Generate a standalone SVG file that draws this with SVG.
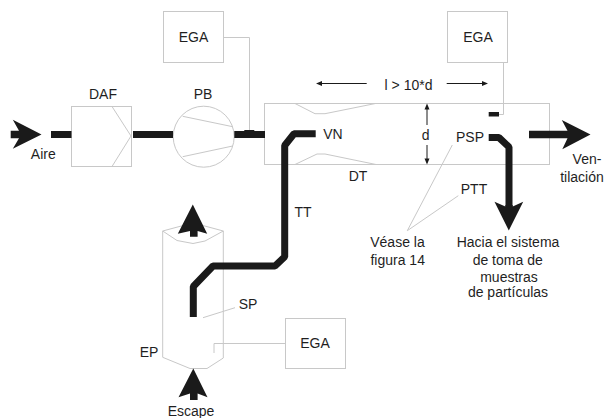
<svg xmlns="http://www.w3.org/2000/svg" width="605" height="418" viewBox="0 0 605 418">
<style>
.t{font-family:"Liberation Sans",Arial,sans-serif;font-size:14px;fill:#1f1f1f;text-anchor:middle}
.s{fill:none;stroke:#c8c8c8;stroke-width:1}
.b{fill:#fff;stroke:#c8c8c8;stroke-width:1}
.p{fill:none;stroke:#1a1a1a;stroke-width:7;stroke-linejoin:bevel}
.f{fill:#1a1a1a;stroke:none}
.a{fill:none;stroke:#1a1a1a;stroke-width:1}
</style>
<rect width="605" height="418" fill="#fff"/>
<g id="tunnel"><rect class="b" x="264.500" y="103.500" width="285" height="61"/>
<path class="s" d="M295 103.500L315 113.700H325L375.500 103.500M295 164.500L317 154H325L376 164.500"/>
<text class="t" x="358" y="181">DT</text></g>
<g id="daf"><rect class="b" x="71.500" y="106.500" width="60" height="60"/><path class="s" d="M112 106.500L131 136L112 166.500"/><text class="t" x="103" y="99">DAF</text></g>
<g id="pb"><circle class="b" cx="203.700" cy="136.700" r="30.500"/><path class="s" d="M182.700 116.300L232.700 126.700M182.700 156.700L232.700 146"/><text class="t" x="203" y="99">PB</text></g>
<g id="ega1"><rect class="b" x="163.500" y="11.500" width="60" height="51"/><text class="t" x="193.500" y="42">EGA</text><path class="s" d="M223.500 37.500H249.500V130"/></g>
<g id="ega2"><rect class="b" x="447.500" y="11.500" width="60" height="51"/><text class="t" x="478" y="42">EGA</text><path class="s" d="M503.500 62.500V114.500H499"/></g>
<g id="ep"><path class="s" d="M162.700 231V357.300L190 368.500H207L223.300 358V231L201 225H185Z"/><path class="s" d="M162.700 231L177 240.500L193 243.500L205 241L223.300 231"/>
<text class="t" x="149" y="357">EP</text><text class="t" x="248" y="309">SP</text><path class="s" d="M203 317.700L235 307.700"/></g>
<g id="ega3"><rect class="b" x="285.500" y="318.500" width="60" height="50"/><text class="t" x="315" y="348">EGA</text><path class="s" d="M285.500 343.500H214V353"/></g>
<g id="connectors">
<path class="p" d="M51 134.400H71.500M133 134.400H173M234.300 134.400H265"/>
<path class="p" d="M315.700 133.800H294L284.700 145.500V256.700L275 266H213L193.300 286.500V317"/>
<path class="p" d="M488.700 137.600H499L509 147V208"/>
<rect class="f" x="488.700" y="112" width="10.300" height="4.500"/>
<rect class="f" x="244.300" y="130" width="10" height="2"/>
<path class="f" d="M10.700 130.700H19L12.800 119.800L41.500 134.400L12.800 148.800L19 138.200H10.700Z"/>
<path class="f" d="M529 130.700H567.500L561.800 120L590.500 134.400L562.300 149.200L567.500 138.200H529Z"/>
<path class="f" d="M190 236.700V231L177.800 233.800L192.800 204.500L207.200 233.800L197.600 231V236.700Z"/>
<path class="f" d="M190 400V393.500L178.500 397.200L193.300 368.500L207.500 397.200L197.600 393.500V400Z"/>
<path class="f" d="M505.400 205V206.500L494.500 201.800L508.800 230.500L523.200 201.800L512.700 206.500V205Z"/>
<path class="a" d="M366.700 83.500H318M446.700 83.500H486M427 106V125M427 145V162"/>
<path class="f" d="M427 103.500l-2.500 6h5zM427 164.500l-2.500 -6h5zM316 83.500l6 -2.500v5zM488 83.500l-6 -2.500v5z"/>
<path class="s" d="M452.300 145L407.300 230.700L458.300 195.700"/>
</g>
<g id="labels">
<text class="t" x="43.300" y="158.700">Aire</text>
<text class="t" x="408.500" y="89.500">l &gt; 10*d</text>
<text class="t" x="425.700" y="140">d</text>
<text class="t" x="333" y="139">VN</text>
<text class="t" x="470" y="142">PSP</text>
<text class="t" x="474" y="194">PTT</text>
<text class="t" x="587" y="164">Ven-</text>
<text class="t" x="582" y="182">tilación</text>
<text class="t" x="303" y="216.700">TT</text>
<text class="t" x="397.500" y="247.300">Véase la</text>
<text class="t" x="397.700" y="264.700">figura 14</text>
<text class="t" x="508" y="247.300">Hacia el sistema</text>
<text class="t" x="507.700" y="265">de toma de</text>
<text class="t" x="509" y="281.700">muestras</text>
<text class="t" x="508" y="297">de partículas</text>
<text class="t" x="191" y="415.700">Escape</text>
</g>
</svg>
